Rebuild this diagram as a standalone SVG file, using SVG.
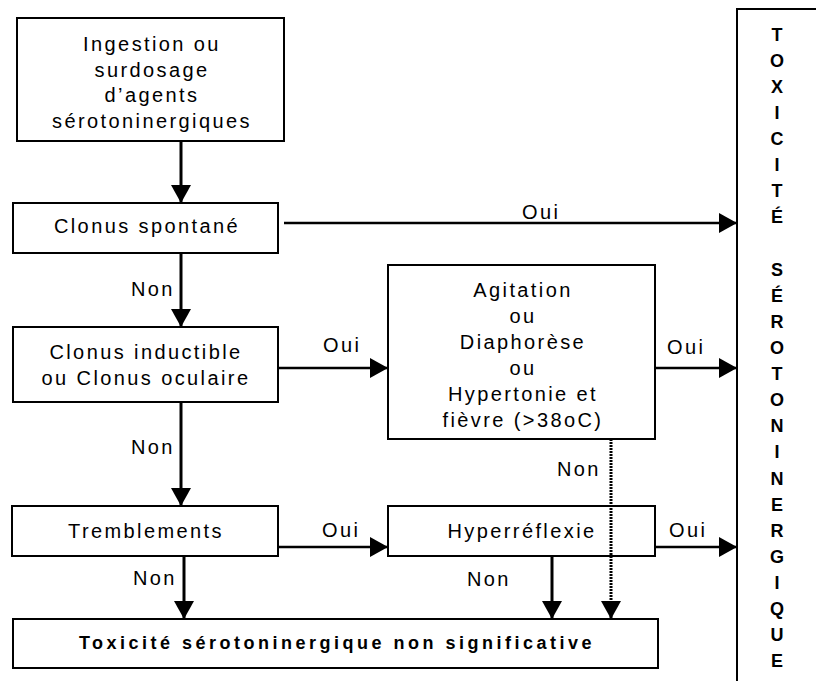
<svg xmlns="http://www.w3.org/2000/svg" width="816" height="681" viewBox="0 0 816 681">
<defs>
<style>
.box{fill:#fff;stroke:#000;stroke-width:2}
.t{font-family:"Liberation Sans",Arial,sans-serif;font-size:20px;letter-spacing:2.4px;fill:#000}
.c{text-anchor:middle}
.b{font-family:"Liberation Sans",Arial,sans-serif;font-size:18px;font-weight:bold;letter-spacing:3.5px;fill:#000}
.v{font-family:"Liberation Sans",Arial,sans-serif;font-size:18px;font-weight:bold;fill:#000;text-anchor:middle}
.ln{stroke:#000;stroke-width:3;fill:none;marker-end:url(#ah)}
.hl{stroke:#000;stroke-width:2.5;fill:none;marker-end:url(#ah)}
.dot{stroke:#000;stroke-width:3;fill:none;stroke-dasharray:2 1;marker-end:url(#ah)}
</style>
<marker id="ah" markerUnits="userSpaceOnUse" markerWidth="18" markerHeight="20" refX="18" refY="10" orient="auto">
<path d="M0,0 L18,10 L0,20 z" fill="#000"/>
</marker>
</defs>
<rect width="816" height="681" fill="#fff"/>

<g id="n1">
<rect class="box" x="17" y="18" width="267" height="123"/>
<text class="t c" x="152" y="51">Ingestion ou</text>
<text class="t c" x="152" y="77">surdosage</text>
<text class="t c" x="152" y="102">d’agents</text>
<text class="t c" x="152" y="128">sérotoninergiques</text>
</g>
<g id="n2">
<rect class="box" x="13" y="203" width="265" height="50"/>
<text class="t c" x="147" y="233">Clonus spontané</text>
</g>
<g id="n3">
<rect class="box" x="13" y="327" width="265" height="75"/>
<text class="t c" x="146" y="359">Clonus inductible</text>
<text class="t c" x="146" y="385">ou Clonus oculaire</text>
</g>
<g id="n4">
<rect class="box" x="388" y="265" width="267" height="174"/>
<text class="t c" x="523" y="297">Agitation</text>
<text class="t c" x="523" y="323">ou</text>
<text class="t c" x="523" y="349">Diaphorèse</text>
<text class="t c" x="523" y="375">ou</text>
<text class="t c" x="523" y="401">Hypertonie et</text>
<text class="t c" x="523" y="427">fièvre (&gt;38oC)</text>
</g>
<g id="n5">
<rect class="box" x="12" y="506" width="266" height="50"/>
<text class="t c" x="146" y="538">Tremblements</text>
</g>
<g id="n7">
<rect class="box" x="388" y="506" width="267" height="50"/>
<text class="t c" x="522" y="538">Hyperréflexie</text>
</g>
<g id="n6">
<rect class="box" x="13" y="619" width="645" height="49"/>
<text class="b c" x="337" y="649">Toxicité sérotoninergique non significative</text>
</g>
<g id="n8">
<rect class="box" x="737" y="9" width="100" height="700"/>
<text class="v" x="777" y="41">T</text>
<text class="v" x="777" y="67">O</text>
<text class="v" x="777" y="93">X</text>
<text class="v" x="777" y="119">I</text>
<text class="v" x="777" y="145">C</text>
<text class="v" x="777" y="171">I</text>
<text class="v" x="777" y="197">T</text>
<text class="v" x="777" y="223">É</text>
<text class="v" x="777" y="276">S</text>
<text class="v" x="777" y="302">É</text>
<text class="v" x="777" y="328">R</text>
<text class="v" x="777" y="354">O</text>
<text class="v" x="777" y="380">T</text>
<text class="v" x="777" y="406">O</text>
<text class="v" x="777" y="432">N</text>
<text class="v" x="777" y="458">I</text>
<text class="v" x="777" y="485">N</text>
<text class="v" x="777" y="511">E</text>
<text class="v" x="777" y="537">R</text>
<text class="v" x="777" y="563">G</text>
<text class="v" x="777" y="589">I</text>
<text class="v" x="777" y="615">Q</text>
<text class="v" x="777" y="641">U</text>
<text class="v" x="777" y="667">E</text>
</g>

<g id="connectors">
<line class="ln" x1="181" y1="141" x2="181" y2="203"/>
<line class="hl" x1="284" y1="223" x2="737" y2="223"/>
<line class="ln" x1="181" y1="253" x2="181" y2="327"/>
<line class="hl" x1="278" y1="368" x2="388" y2="368"/>
<line class="hl" x1="655" y1="368" x2="737" y2="368"/>
<line class="ln" x1="181" y1="402" x2="181" y2="506"/>
<line class="hl" x1="278" y1="547" x2="388" y2="547"/>
<line class="hl" x1="655" y1="547" x2="737" y2="547"/>
<line class="ln" x1="184" y1="556" x2="184" y2="619"/>
<line class="ln" x1="552" y1="556" x2="552" y2="619"/>
<line class="dot" x1="611" y1="439" x2="611" y2="619"/>
<text class="t" x="522" y="219">Oui</text>
<text class="t" x="131" y="296">Non</text>
<text class="t" x="323" y="352">Oui</text>
<text class="t" x="667" y="354">Oui</text>
<text class="t" x="131" y="454">Non</text>
<text class="t" x="557" y="476">Non</text>
<text class="t" x="322" y="537">Oui</text>
<text class="t" x="669" y="537">Oui</text>
<text class="t" x="133" y="585">Non</text>
<text class="t" x="467" y="586">Non</text>
</g>
</svg>
